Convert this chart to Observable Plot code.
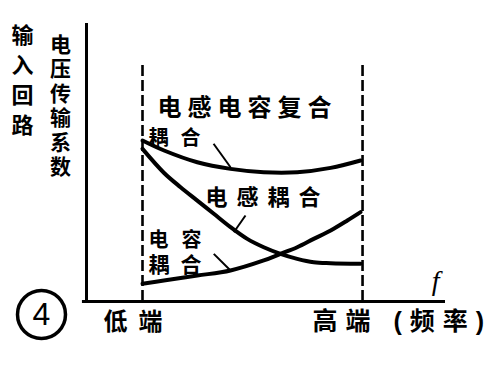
<!DOCTYPE html>
<html>
<head>
<meta charset="utf-8">
<script src="https://cdn.jsdelivr.net/npm/d3@7"></script>
<script src="https://cdn.jsdelivr.net/npm/@observablehq/plot@0.6"></script>
<style>
  body { margin: 0; background: #fff; }
  svg { display: block; }
</style>
</head>
<body>
<div id="chart"></div>
<script>
// frequency: 0 = 低端 (low end), 1 = 高端 (high end); coefficient: relative voltage transfer
const freqCombined = [0, 0.098, 0.249, 0.4, 0.551, 0.703, 0.855, 0.991];
const coefCombined = [1.0, 0.938, 0.865, 0.824, 0.803, 0.803, 0.830, 0.876];

const freqInductive = [0, 0.097, 0.173, 0.249, 0.324, 0.4, 0.476, 0.551, 0.627, 0.703, 0.778, 0.855, 0.991];
const coefInductive = [0.948, 0.80, 0.710, 0.627, 0.545, 0.462, 0.389, 0.337, 0.296, 0.265, 0.244, 0.238, 0.234];

const freqCapacitive = [0, 0.097, 0.249, 0.4, 0.551, 0.627, 0.703, 0.778, 0.855, 0.931, 0.991];
const coefCapacitive = [0.110, 0.130, 0.161, 0.193, 0.255, 0.296, 0.337, 0.389, 0.441, 0.503, 0.555];

const bandEdges = [0, 1];          // 低端, 高端
const bandTop = 1.466;

// curve labels and leader lines
const labelTexts = ["电感电容复合", "耦合", "电感耦合", "电容", "耦合"];
const labelU = [0.477, 0.173, 0.568, 0.027, 0.027];
const labelV = [1.199, 1.012, 0.646, 0.376, 0.228];
const labelSize = [24, 20, 22, 20, 21];
const labelAnchor = ["middle", "middle", "middle", "start", "start"];
const labelSpacing = [6, 12, 9, 13, 11];

const leaderU1 = [0.323, 0.468, 0.324];
const leaderV1 = [0.980, 0.534, 0.296];
const leaderU2 = [0.400, 0.415, 0.400];
const leaderV2 = [0.834, 0.430, 0.193];

const yTitle1 = "输\n入\n回\n路";
const yTitle2 = "电\n压\n传\n输\n系\n数";
const lowLabel = "低端";
const highLabel = "高端 (频率)";
const xVar = "f";
const figNo = "4";

const xMin = -0.2545, xMax = 1.377, yMax = 1.727;

const toPts = (xs, ys) => xs.map((x, i) => ({x, y: ys[i]}));
const font = "'Liberation Sans', 'Noto Sans CJK SC', sans-serif";

const labels = labelTexts.map((t, i) => ({t, u: labelU[i], v: labelV[i], s: labelSize[i], a: labelAnchor[i]}));
const leaders = leaderU1.map((u, i) => ({x1: u, y1: leaderV1[i], x2: leaderU2[i], y2: leaderV2[i]}));

const spacingMap = new Map(labelTexts.map((t, i) => [t + "|" + labelSize[i], labelSpacing[i]]));

const curve = "catmull-rom";
const lineOpts = {x: "x", y: "y", curve, stroke: "#000", strokeWidth: 4, strokeLinecap: "round"};

const plot = Plot.plot({
  width: 492,
  height: 365,
  marginLeft: 86,
  marginRight: 47,
  marginTop: 23,
  marginBottom: 64,
  x: {domain: [xMin, xMax], axis: null},
  y: {domain: [0, yMax], axis: null},
  style: {fontFamily: font, background: "#fff", color: "#000", overflow: "visible"},
  marks: [
    // axes
    Plot.ruleX([xMin], {y1: 0, y2: yMax, stroke: "#000", strokeWidth: 3}),
    Plot.ruleY([0], {x1: -0.273, x2: xMax, stroke: "#000", strokeWidth: 3}),
    // band edges
    Plot.ruleX(bandEdges, {y1: 0, y2: bandTop, stroke: "#000", strokeWidth: 2.6, strokeDasharray: "11,4"}),
    // curves
    Plot.line(toPts(freqCombined, coefCombined), lineOpts),
    Plot.line(toPts(freqInductive, coefInductive), lineOpts),
    Plot.line(toPts(freqCapacitive, coefCapacitive), lineOpts),
    // leaders
    Plot.link(leaders, {x1: "x1", y1: "y1", x2: "x2", y2: "y2", stroke: "#000", strokeWidth: 2}),
    // curve labels
    ...labels.map(d => Plot.text([d], {x: "u", y: "v", text: "t", fontSize: d.s, fontWeight: "bold", textAnchor: d.a, fill: "#000"})),
    // axis titles
    Plot.text([yTitle1], {x: -0.545, y: 1.385, text: d => d, fontSize: 22, lineHeight: 1.36, fontWeight: "bold", fill: "#000"}),
    Plot.text([yTitle2], {x: -0.373, y: 1.220, text: d => d, fontSize: 21, lineHeight: 1.17, fontWeight: "bold", fill: "#000"}),
    Plot.text([lowLabel], {x: -0.177, y: -0.130, text: d => d, fontSize: 24, textAnchor: "start", fontWeight: "bold", fill: "#000"}),
    Plot.text([highLabel], {x: 0.773, y: -0.130, text: d => d, fontSize: 25, textAnchor: "start", fontWeight: "bold", fill: "#000"}),
    Plot.text([xVar], {x: 1.332, y: 0.130, text: d => d, fontSize: 28, fontStyle: "italic", fontFamily: "'Liberation Serif', 'DejaVu Serif', serif", fill: "#000"}),
    // figure number
    Plot.dot([0], {x: -0.459, y: -0.081, r: 24, stroke: "#000", strokeWidth: 3.5, fill: "none"}),
    Plot.text([figNo], {x: -0.459, y: -0.081, text: d => d, fontSize: 32, fontFamily: "'Liberation Sans', 'DejaVu Sans', sans-serif", fill: "#000"})
  ]
});

d3.select(plot).selectAll("text").each(function () {
  const el = d3.select(this);
  const t = this.textContent;
  const fs = parseFloat(el.attr("font-size") || this.parentNode.getAttribute("font-size"));
  const key = t + "|" + fs;
  if (spacingMap.has(key)) el.style("letter-spacing", spacingMap.get(key) + "px");
  else if (t === lowLabel) el.style("letter-spacing", "11px");
  else if (t === highLabel) el.style("letter-spacing", "8px");
});

document.getElementById("chart").appendChild(plot);
</script>
</body>
</html>
